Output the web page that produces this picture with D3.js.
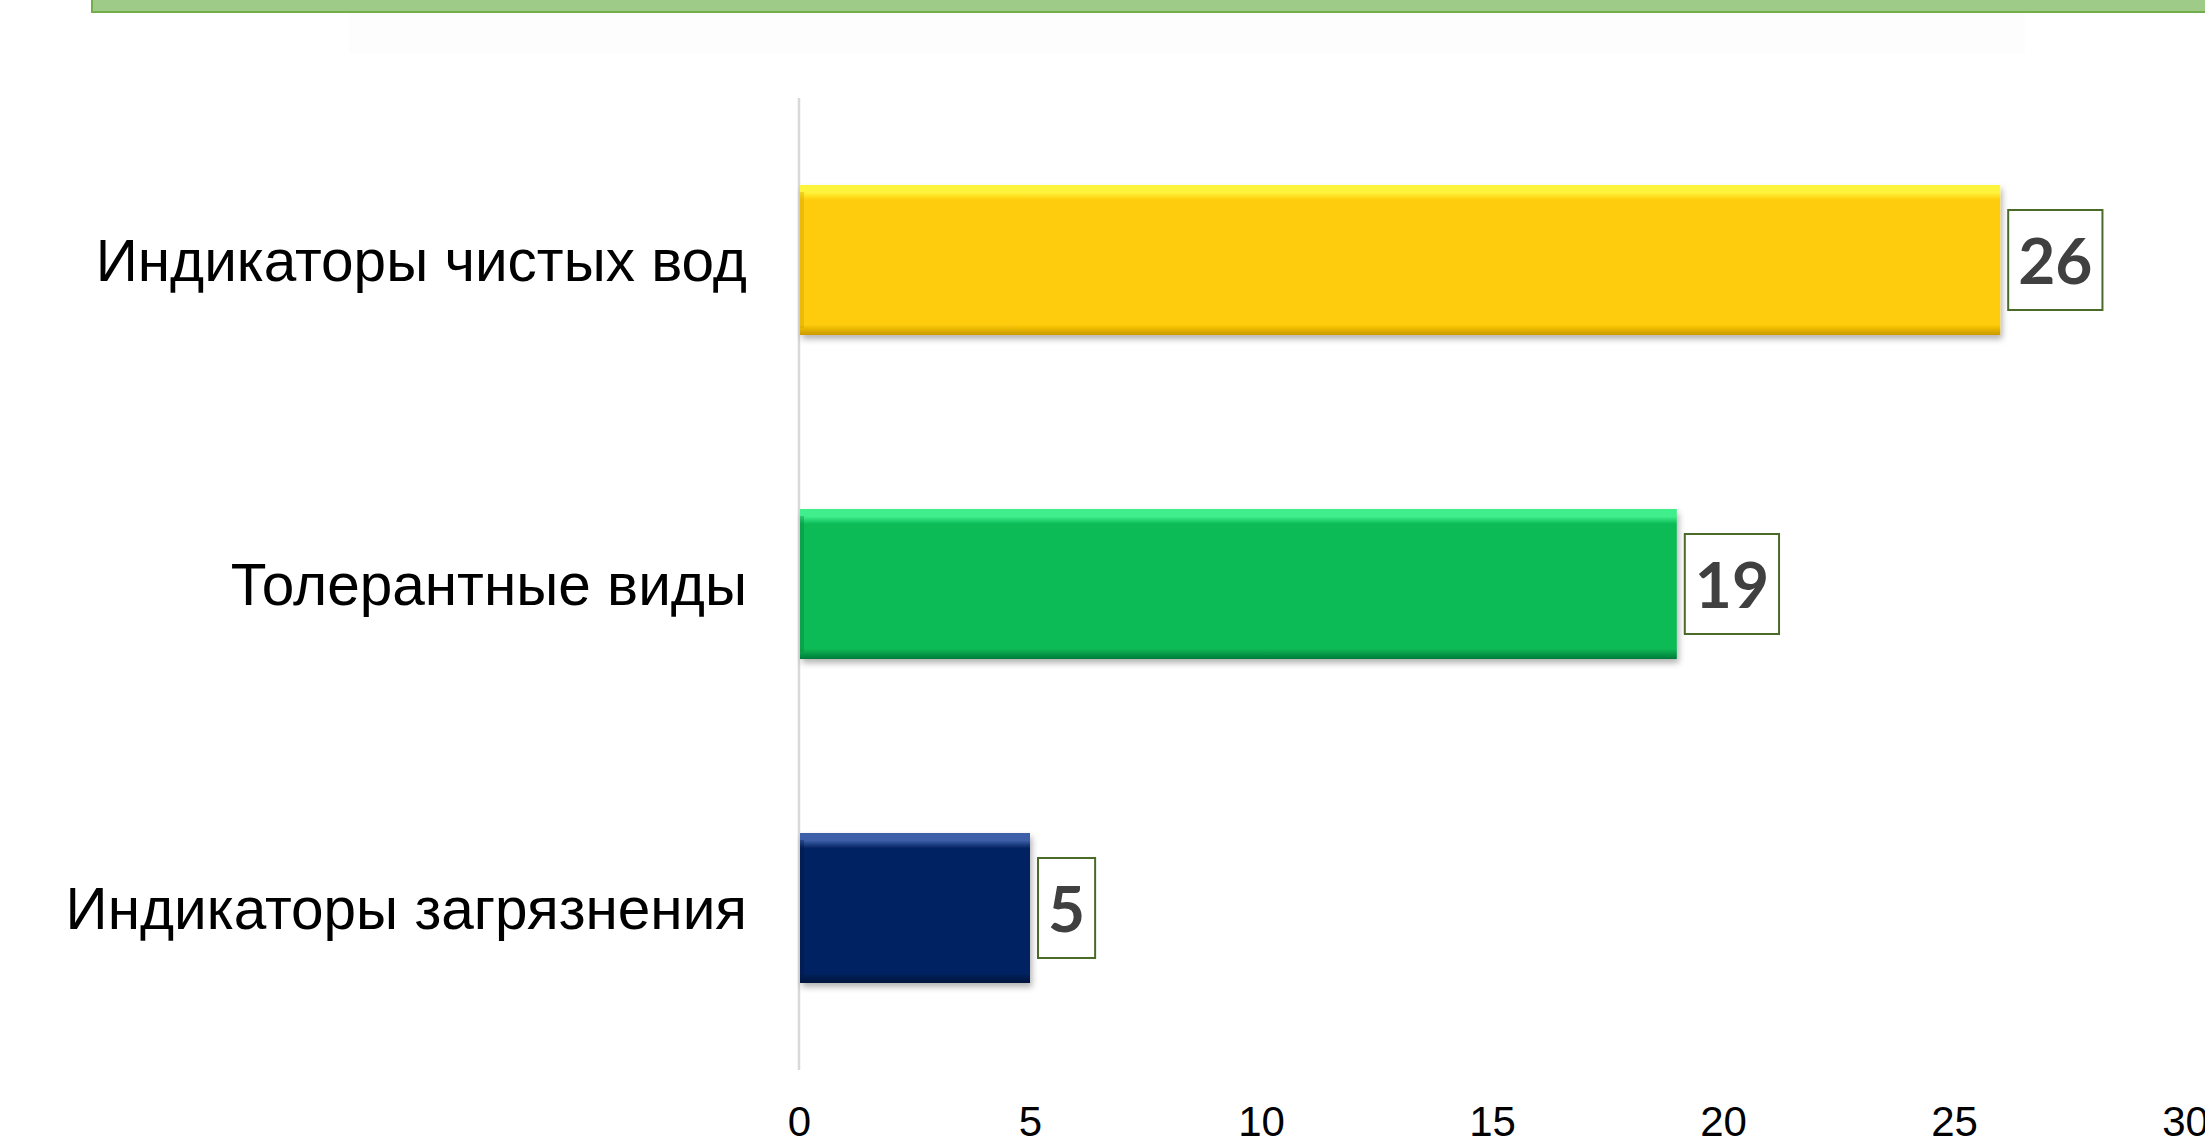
<!DOCTYPE html>
<html>
<head>
<meta charset="utf-8">
<script src="https://cdn.jsdelivr.net/npm/d3@7/dist/d3.min.js"></script>
<style>
  html, body { margin: 0; padding: 0; background: #ffffff; }
  svg { display: block; }
</style>
</head>
<body>
<svg id="chart" width="2205" height="1145"></svg>
<script>
const categories = ["Индикаторы чистых вод", "Толерантные виды", "Индикаторы загрязнения"];
const values = [26, 19, 5];
const barColors = [
  { top: "#FFF33B", main: "#FFCC08", bottom: "#C99A00" },
  { top: "#40EE8C", main: "#08BB56", bottom: "#057A38" },
  { top: "#3D5FA8", main: "#052462", bottom: "#02143C" }
];
const tickValues = [0, 5, 10, 15, 20, 25, 30];

const svg = d3.select("#chart");
const defs = svg.append("defs");

// header band (cut off at top of the slide)
svg.append("rect").attr("x", 349).attr("y", 13).attr("width", 1676).attr("height", 40).attr("fill", "#FDFDFD");
svg.append("rect").attr("x", 92).attr("y", -4).attr("width", 2120).attr("height", 16)
  .attr("fill", "#9FCB89");
svg.append("line").attr("x1", 92).attr("x2", 2205).attr("y1", 12).attr("y2", 12)
  .attr("stroke", "#72AE4C").attr("stroke-width", 2);
svg.append("line").attr("x1", 92).attr("x2", 92).attr("y1", 0).attr("y2", 13)
  .attr("stroke", "#72AE4C").attr("stroke-width", 2);

const x = d3.scaleLinear().domain([0, 30]).range([799, 2185]);
const y = d3.scaleBand().domain(categories).range([98, 1070]).paddingInner(0.537).paddingOuter(0.2685);

// shadow filter
const f = defs.append("filter").attr("id", "shadow").attr("x", "-5%").attr("y", "-10%").attr("width", "115%").attr("height", "130%");
f.append("feDropShadow").attr("dx", 2).attr("dy", 4).attr("stdDeviation", 3).attr("flood-color", "#000").attr("flood-opacity", 0.3);

// gradients
barColors.forEach((c, i) => {
  const g = defs.append("linearGradient").attr("id", "grad" + i).attr("x1", 0).attr("x2", 0).attr("y1", 0).attr("y2", 1);
  g.append("stop").attr("offset", "0%").attr("stop-color", c.top);
  g.append("stop").attr("offset", "5%").attr("stop-color", c.top);
  g.append("stop").attr("offset", "10%").attr("stop-color", c.main);
  g.append("stop").attr("offset", "93%").attr("stop-color", c.main);
  g.append("stop").attr("offset", "100%").attr("stop-color", c.bottom);
});

// axis line
svg.append("line").attr("x1", x(0)).attr("x2", x(0)).attr("y1", 98).attr("y2", 1070)
  .attr("stroke", "#D9D9D9").attr("stroke-width", 2.5);

// bars
const data = categories.map((c, i) => ({ cat: c, val: values[i], i }));
svg.selectAll("rect.bar").data(data).enter().append("rect")
  .attr("class", "bar")
  .attr("x", x(0) + 1)
  .attr("y", d => y(d.cat))
  .attr("width", d => x(d.val) - x(0) - 1)
  .attr("height", y.bandwidth())
  .attr("fill", d => "url(#grad" + d.i + ")")
  .attr("filter", "url(#shadow)");

// left bevel edge
svg.selectAll("rect.edge").data(data).enter().append("rect")
  .attr("x", x(0) + 1)
  .attr("y", d => y(d.cat) + 7)
  .attr("width", 4)
  .attr("height", y.bandwidth() - 14)
  .attr("fill", d => barColors[d.i].bottom)
  .attr("opacity", 0.35);

// category labels
svg.selectAll("text.cat").data(data).enter().append("text")
  .attr("class", "cat")
  .attr("x", 747)
  .attr("y", d => y(d.cat) + y.bandwidth() / 2 + 21)
  .attr("text-anchor", "end")
  .attr("font-family", "'Liberation Sans', Arial, sans-serif")
  .attr("font-size", 58.5)
  .attr("fill", "#000")
  .text(d => d.cat);

// value labels with boxes
const lab = svg.selectAll("g.lab").data(data).enter().append("g").attr("class", "lab");
lab.append("text")
  .attr("x", d => x(d.val) + 18)
  .attr("y", d => y(d.cat) + y.bandwidth() / 2 + 24)
  .attr("font-family", "Lato, 'Open Sans', sans-serif")
  .attr("font-weight", 700)
  .attr("font-size", 64)
  .attr("fill", "#404040")
  .text(d => d.val);
lab.each(function(d) {
  const t = d3.select(this).select("text");
  const w = t.node().getComputedTextLength();
  d3.select(this).insert("rect", "text")
    .attr("x", x(d.val) + 8)
    .attr("y", y(d.cat) + y.bandwidth() / 2 - 50)
    .attr("width", w + 20)
    .attr("height", 100)
    .attr("fill", "#fff")
    .attr("stroke", "#4A6A2A")
    .attr("stroke-width", 2);
});

// x axis
const axis = d3.axisBottom(x).tickValues(tickValues).tickSize(0).tickPadding(0);
const ax = svg.append("g").attr("transform", "translate(0,1094)").call(axis);
ax.select(".domain").remove();
ax.selectAll("text")
  .attr("font-family", "'Liberation Sans', Arial, sans-serif")
  .attr("font-size", 42)
  .attr("fill", "#000")
  .attr("dy", "1em");
</script>
</body>
</html>
